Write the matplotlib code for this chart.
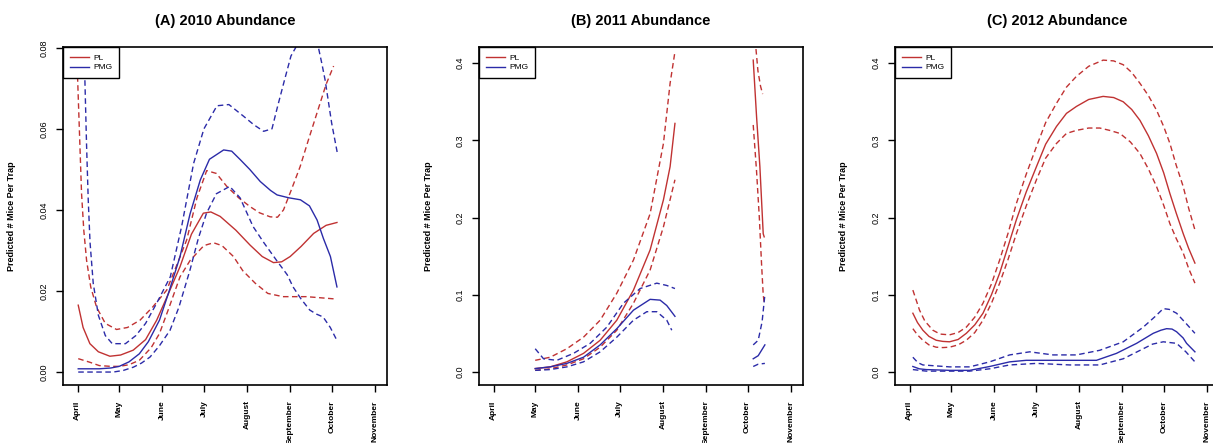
import numpy as np
import matplotlib
matplotlib.use('Agg')
import matplotlib.pyplot as plt
from matplotlib.lines import Line2D

RED = '#C03232'
BLUE = '#2B2BA8'

# month starts (day of year) and names
month_days = [91, 121, 152, 182, 213, 244, 274, 305]
month_names = ['April', 'May', 'June', 'July', 'August', 'September', 'October', 'November']

# ---- (A) 2010 ----
a_pl_x = [91.5, 95, 99.9, 106, 114.3, 122, 131.1, 140, 148, 156, 164.8, 173, 181.6, 187, 193.7, 205, 215.3, 224, 232.1, 238, 244.1, 252, 261, 270, 277.8]
a_pl_y = [0.0165, 0.0110, 0.0070, 0.0050, 0.0039, 0.0042, 0.0054, 0.0080, 0.0128, 0.0190, 0.0260, 0.0340, 0.0392, 0.0395, 0.0384, 0.0350, 0.0313, 0.0285, 0.0270, 0.0272, 0.0285, 0.0310, 0.0342, 0.0362, 0.0369]
a_pl_up_x = [91, 92.5, 93.9, 95.5, 97.5, 100.5, 104.7, 111, 119.1, 127, 136, 145, 155.2, 162, 169.6, 177, 184, 191, 198.5, 207, 215.3, 222, 229.7, 235, 239.3, 245, 251.3, 257, 263.4, 270, 275.4]
a_pl_up_y = [0.0730, 0.0580, 0.0440, 0.0350, 0.0276, 0.0210, 0.0160, 0.0120, 0.0105, 0.0110, 0.0128, 0.0160, 0.0202, 0.0260, 0.0326, 0.0430, 0.0497, 0.0490, 0.0458, 0.0430, 0.0408, 0.0393, 0.0383, 0.0382, 0.0400, 0.0450, 0.0507, 0.0570, 0.0639, 0.0710, 0.0755]
a_pl_lo_x = [91.5, 100, 106.6, 115, 121, 128, 135.5, 144, 150, 157, 164.8, 172, 176.8, 182, 188.9, 195, 203.3, 210, 219, 228, 238.9, 255.8, 277.8]
a_pl_lo_y = [0.0033, 0.0024, 0.0016, 0.0014, 0.0014, 0.0018, 0.0029, 0.0060, 0.0095, 0.0160, 0.0235, 0.0275, 0.0293, 0.0312, 0.0319, 0.0312, 0.0285, 0.0250, 0.0219, 0.0194, 0.0186, 0.0186, 0.0180]
a_pmg_x = [91.5, 100, 106.6, 115, 121, 128, 135.5, 142, 150, 157, 164.8, 172, 179.4, 186, 196.2, 202, 208.2, 215, 222.6, 230, 234.7, 243, 251.5, 258, 263.5, 268, 273.1, 277.8]
a_pmg_y = [0.0008, 0.0008, 0.0008, 0.0010, 0.0014, 0.0025, 0.0045, 0.0075, 0.0128, 0.0200, 0.0285, 0.0390, 0.0474, 0.0525, 0.0548, 0.0545, 0.0524, 0.0500, 0.0470, 0.0448, 0.0437, 0.0430, 0.0425, 0.0410, 0.0375, 0.0330, 0.0285, 0.0210]
a_pmg_up_x = [96.3, 97.5, 98.7, 100, 102.3, 106, 111, 116, 125.5, 133, 140, 148, 157.8, 166, 174.6, 182, 191.4, 200, 210.6, 218, 225, 231, 235.1, 240, 244.7, 248, 251.3, 258, 264.5, 267, 269.3, 274, 278.1]
a_pmg_up_y = [0.0720, 0.0560, 0.0425, 0.0320, 0.0219, 0.0140, 0.0090, 0.0070, 0.0070, 0.0090, 0.0120, 0.0170, 0.0235, 0.0360, 0.0515, 0.0600, 0.0657, 0.0660, 0.0631, 0.0610, 0.0594, 0.0600, 0.0656, 0.0720, 0.0780, 0.0800, 0.0840, 0.0850, 0.0800, 0.0760, 0.0720, 0.0614, 0.0540]
a_pmg_lo_x = [91.5, 105, 116.8, 124, 131.2, 137, 143.2, 150, 157.6, 164, 172, 178, 183.9, 191, 200.6, 208, 217.4, 225, 234.2, 242, 246.2, 252, 258.2, 263, 267.8, 273, 277.8]
a_pmg_lo_y = [0.0000, 0.0000, 0.0000, 0.0004, 0.0012, 0.0022, 0.0037, 0.0065, 0.0103, 0.0160, 0.0252, 0.0330, 0.0392, 0.0440, 0.0458, 0.0430, 0.0359, 0.0320, 0.0276, 0.0240, 0.0210, 0.0180, 0.0153, 0.0143, 0.0136, 0.0110, 0.0078]

# ---- (B) 2011 ----
b_pl_x = [121, 131.8, 143.8, 155.8, 167.8, 179.8, 191.8, 203.8, 213.4, 218.2, 221.7]
b_pl_y = [0.0043, 0.0065, 0.0130, 0.0240, 0.0410, 0.0670, 0.1060, 0.1580, 0.2230, 0.2660, 0.3220]
b_pl_up_x = [121, 131.8, 143.8, 155.8, 167.8, 179.8, 191.8, 203.8, 213.4, 218.2, 221.7]
b_pl_up_y = [0.0150, 0.0190, 0.0300, 0.0450, 0.0670, 0.1020, 0.1450, 0.2050, 0.2960, 0.3740, 0.4150]
b_pl_lo_x = [121, 131.8, 143.8, 155.8, 167.8, 179.8, 191.8, 203.8, 213.4, 221.7]
b_pl_lo_y = [0.0020, 0.0040, 0.0090, 0.0170, 0.0320, 0.0540, 0.0890, 0.1320, 0.1880, 0.2490]
b_pmg_x = [121, 131.8, 143.8, 155.8, 167.8, 179.8, 191.8, 203.8, 211, 215.8, 221.7]
b_pmg_y = [0.0043, 0.0065, 0.0110, 0.0190, 0.0350, 0.0560, 0.0800, 0.0940, 0.0930, 0.0860, 0.0720]
b_pmg_up_x = [121, 127, 136.6, 148.6, 160.6, 172.6, 184.6, 196.6, 208.6, 215.8, 221.7]
b_pmg_up_y = [0.0300, 0.0170, 0.0150, 0.0240, 0.0370, 0.0580, 0.0890, 0.1080, 0.1150, 0.1120, 0.1080]
b_pmg_lo_x = [121, 131.8, 143.8, 155.8, 167.8, 179.8, 191.8, 201.4, 208.6, 215.8, 219.4]
b_pmg_lo_y = [0.0020, 0.0030, 0.0065, 0.0130, 0.0260, 0.0450, 0.0670, 0.0780, 0.0780, 0.0670, 0.0540]
# October fragment
b_oct_pl_x = [278.1, 280.5, 282.9, 285.3, 286.0]
b_oct_pl_y = [0.4040, 0.3310, 0.2660, 0.1790, 0.1750]
b_oct_pl_up_x = [279.5, 281.5, 283.4, 284.9]
b_oct_pl_up_y = [0.4300, 0.3900, 0.3700, 0.3600]
b_oct_pl_lo_x = [278.1, 280.5, 282.5, 284.1, 285.3, 286.0]
b_oct_pl_lo_y = [0.3200, 0.2600, 0.2000, 0.1400, 0.1000, 0.0900]
b_oct_pmg_x = [278.1, 281.7, 286.5]
b_oct_pmg_y = [0.0170, 0.0210, 0.0350]
b_oct_pmg_up_x = [278.1, 281.7, 284.5, 286.5]
b_oct_pmg_up_y = [0.0350, 0.0410, 0.0650, 0.1000]
b_oct_pmg_lo_x = [278.1, 281.7, 286.5]
b_oct_pmg_lo_y = [0.0070, 0.0100, 0.0110]

# ---- (C) 2012 ----
c_pl_x = [93.4, 96.7, 100.6, 105, 110.2, 115, 119.8, 126, 131.9, 138, 143.9, 150, 155.9, 162, 167.9, 175, 182.4, 189, 196.8, 204, 211.2, 220, 230.4, 238, 244.9, 251, 256.9, 263, 268.9, 274, 278.5, 283, 288.1, 292, 296.5]
c_pl_y = [0.0760, 0.0640, 0.0540, 0.0460, 0.0410, 0.0395, 0.0390, 0.0420, 0.0500, 0.0610, 0.0760, 0.1000, 0.1280, 0.1630, 0.1970, 0.2330, 0.2660, 0.2950, 0.3180, 0.3350, 0.3440, 0.3530, 0.3570, 0.3555, 0.3500, 0.3400, 0.3260, 0.3060, 0.2830, 0.2580, 0.2310, 0.2060, 0.1790, 0.1600, 0.1410]
c_pl_up_x = [93.4, 98.2, 102, 107.8, 113, 119.8, 126, 131.9, 138, 143.9, 150, 155.9, 162, 167.9, 175, 182.4, 189, 196.8, 204, 211.2, 220, 230.4, 238, 244.9, 251, 256.9, 263, 268.9, 274, 278.5, 283, 288.1, 292, 296.5]
c_pl_up_y = [0.1060, 0.0800, 0.0660, 0.0540, 0.0490, 0.0480, 0.0510, 0.0580, 0.0710, 0.0890, 0.1140, 0.1450, 0.1800, 0.2180, 0.2560, 0.2920, 0.3230, 0.3480, 0.3690, 0.3830, 0.3960, 0.4040, 0.4030, 0.3980, 0.3880, 0.3740, 0.3580, 0.3390, 0.3180, 0.2960, 0.2680, 0.2400, 0.2120, 0.1840]
c_pl_lo_x = [93.4, 96.7, 100.6, 105, 110.2, 115, 119.8, 126, 131.9, 138, 143.9, 150, 155.9, 162, 167.9, 175, 182.4, 189, 196.8, 204, 211.2, 220, 228, 235, 242.5, 250, 256.9, 263, 268.9, 274, 278.5, 283, 288.1, 292, 296.5]
c_pl_lo_y = [0.0560, 0.0480, 0.0410, 0.0350, 0.0320, 0.0315, 0.0320, 0.0350, 0.0410, 0.0510, 0.0670, 0.0890, 0.1150, 0.1460, 0.1790, 0.2150, 0.2490, 0.2770, 0.2960, 0.3090, 0.3130, 0.3160, 0.3160, 0.3130, 0.3090, 0.2980, 0.2830, 0.2630, 0.2400, 0.2160, 0.1920, 0.1730, 0.1540, 0.1340, 0.1150]
c_pmg_x = [93.4, 98, 103, 119.8, 134.3, 148.7, 163.1, 175, 199.2, 225.6, 240, 254.5, 266.5, 272, 276.1, 280, 283.3, 288, 290.5, 296.5]
c_pmg_y = [0.0070, 0.0040, 0.0030, 0.0020, 0.0020, 0.0070, 0.0130, 0.0150, 0.0150, 0.0150, 0.0240, 0.0370, 0.0500, 0.0540, 0.0560, 0.0555, 0.0520, 0.0440, 0.0370, 0.0260]
c_pmg_up_x = [93.4, 97, 100.6, 119.8, 134.3, 148.7, 163.1, 177.5, 194.3, 211.2, 228, 244.9, 259.3, 268, 273.7, 278, 283.3, 290, 296.5]
c_pmg_up_y = [0.0190, 0.0120, 0.0090, 0.0065, 0.0065, 0.0130, 0.0220, 0.0260, 0.0220, 0.0220, 0.0280, 0.0390, 0.0580, 0.0720, 0.0820, 0.0810, 0.0760, 0.0630, 0.0500]
c_pmg_lo_x = [93.4, 103, 119.8, 134.3, 148.7, 163.1, 182.4, 206.4, 228, 244.9, 259.3, 266, 273.7, 283.3, 290, 296.5]
c_pmg_lo_y = [0.0030, 0.0010, 0.0010, 0.0010, 0.0040, 0.0090, 0.0110, 0.0090, 0.0090, 0.0170, 0.0300, 0.0360, 0.0390, 0.0370, 0.0260, 0.0130]

fig = plt.figure(figsize=(12.13, 4.43), dpi=100)
plt.rcParams['font.family'] = ['Liberation Sans', 'DejaVu Sans']

def setup(ax, title, ylim, yticks, ylabels):
  ax.set_xlim(80.5, 313.8)
  ax.set_ylim(*ylim)
  ax.set_xticks(month_days)
  ax.set_xticklabels(month_names, rotation=90, fontsize=6, fontweight='bold', va='top')
  ax.set_yticks(yticks)
  ax.set_yticklabels(ylabels, rotation=90, fontsize=6.5, va='center')
  ax.tick_params(length=5, width=1, pad=5)
  ax.tick_params(axis='x', pad=6)
  ax.set_ylabel('Predicted # Mice Per Trap', fontsize=6.5, fontweight='bold', labelpad=17)
  ax.set_title(title, fontsize=10.5, fontweight='bold', pad=16)
  for s in ax.spines.values():
    s.set_linewidth(1.2)
  handles = [Line2D([], [], color=RED, lw=1), Line2D([], [], color=BLUE, lw=1)]
  leg = ax.legend(handles, ['PL', 'PMG'], loc='upper left', fontsize=6, fancybox=False,
                  edgecolor='black', framealpha=1, borderaxespad=0, handlelength=2.3,
                  borderpad=0.8, labelspacing=0.25, handletextpad=0.5)
  leg.get_frame().set_linewidth(1)

def draw(ax, x, y, c, ls):
  ax.plot(x, y, color=c, lw=1, ls=ls, dashes=(4, 2.5) if ls == '--' else (None, None))

axA = fig.add_axes([0.0519, 0.1309, 0.2671, 0.763])
draw(axA, a_pl_x, a_pl_y, RED, '-')
draw(axA, a_pl_up_x, a_pl_up_y, RED, '--')
draw(axA, a_pl_lo_x, a_pl_lo_y, RED, '--')
draw(axA, a_pmg_x, a_pmg_y, BLUE, '-')
draw(axA, a_pmg_up_x, a_pmg_up_y, BLUE, '--')
draw(axA, a_pmg_lo_x, a_pmg_lo_y, BLUE, '--')
setup(axA, '(A) 2010 Abundance', (-0.0032, 0.0802), [0, 0.02, 0.04, 0.06, 0.08],
      ['0.00', '0.02', '0.04', '0.06', '0.08'])

axB = fig.add_axes([0.3949, 0.1309, 0.2669, 0.763])
for xs, ys, c, ls in [(b_pl_x, b_pl_y, RED, '-'), (b_pl_up_x, b_pl_up_y, RED, '--'),
                      (b_pl_lo_x, b_pl_lo_y, RED, '--'), (b_pmg_x, b_pmg_y, BLUE, '-'),
                      (b_pmg_up_x, b_pmg_up_y, BLUE, '--'), (b_pmg_lo_x, b_pmg_lo_y, BLUE, '--'),
                      (b_oct_pl_x, b_oct_pl_y, RED, '-'), (b_oct_pl_up_x, b_oct_pl_up_y, RED, '--'),
                      (b_oct_pl_lo_x, b_oct_pl_lo_y, RED, '--'), (b_oct_pmg_x, b_oct_pmg_y, BLUE, '-'),
                      (b_oct_pmg_up_x, b_oct_pmg_up_y, BLUE, '--'), (b_oct_pmg_lo_x, b_oct_pmg_lo_y, BLUE, '--')]:
  draw(axB, xs, ys, c, ls)
setup(axB, '(B) 2011 Abundance', (-0.017, 0.421), [0, 0.1, 0.2, 0.3, 0.4],
      ['0.0', '0.1', '0.2', '0.3', '0.4'])

axC = fig.add_axes([0.7378, 0.1309, 0.2671, 0.763])
draw(axC, c_pl_x, c_pl_y, RED, '-')
draw(axC, c_pl_up_x, c_pl_up_y, RED, '--')
draw(axC, c_pl_lo_x, c_pl_lo_y, RED, '--')
draw(axC, c_pmg_x, c_pmg_y, BLUE, '-')
draw(axC, c_pmg_up_x, c_pmg_up_y, BLUE, '--')
draw(axC, c_pmg_lo_x, c_pmg_lo_y, BLUE, '--')
setup(axC, '(C) 2012 Abundance', (-0.017, 0.421), [0, 0.1, 0.2, 0.3, 0.4],
      ['0.0', '0.1', '0.2', '0.3', '0.4'])

fig.savefig('out.png', dpi=100)
